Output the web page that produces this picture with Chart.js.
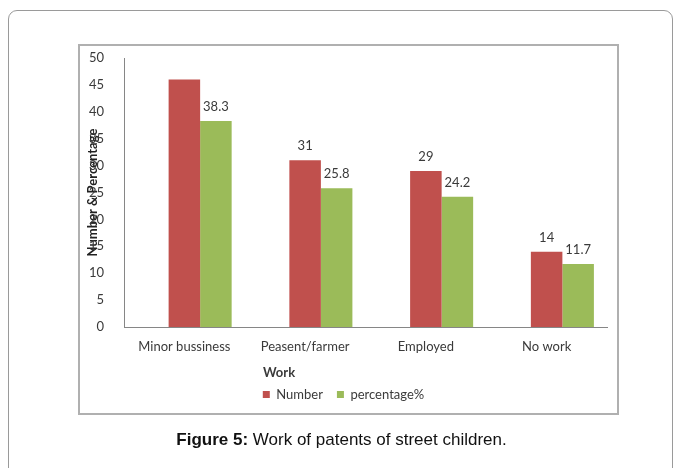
<!DOCTYPE html>
<html>
<head>
<meta charset="utf-8">
<script src="https://cdn.jsdelivr.net/npm/chart.js@4.4.0/dist/chart.umd.min.js"></script>
<style>
  html, body { margin: 0; padding: 0; background: #fff; }
  body { width: 683px; height: 468px; position: relative; overflow: hidden; }
  #outer { position: absolute; left: 8px; top: 10px; width: 663px; height: 480px; border: 1px solid #9a9a9a; border-radius: 9px; }
  #inner { position: absolute; left: 78px; top: 44px; width: 537px; height: 367px; border: 2px solid #b0b0b0; }
  #chartBox { position: absolute; left: 0; top: 0; width: 683px; height: 468px; }
  #caption { position: absolute; left: 0; top: 430px; width: 683px; text-align: center; font-family: "Liberation Sans", Arial, sans-serif; font-size: 17px; color: #111; }
</style>
</head>
<body>
<div id="outer"></div>
<div id="inner"></div>
<div id="chartBox"><canvas id="workChart" width="683" height="468"></canvas></div>
<div id="caption"><b>Figure 5:</b> Work of patents of street children.</div>
<script>
const categories = ['Minor bussiness', 'Peasent/farmer', 'Employed', 'No work'];
const numberValues = [46, 31, 29, 14];
const percentValues = [38.3, 25.8, 24.2, 11.7];
// the first "Number" bar has no value label in the original
const numberLabels = ['', '31', '29', '14'];
const percentLabels = ['38.3', '25.8', '24.2', '11.7'];
const yMin = 0, yMax = 50, yStep = 5;

const textColor = '#3a3a3a';
const fontFamily = 'Lato, "Open Sans", sans-serif';

// draws the value labels over the bars and the "Work" axis title
const barLabels = {
    id: 'barLabels',
    afterDatasetsDraw(chart) {
        const ctx = chart.ctx;
        ctx.save();
        ctx.fillStyle = textColor;
        ctx.textAlign = 'center';
        ctx.textBaseline = 'middle';
        ctx.font = '13px ' + fontFamily;
        chart.data.datasets.forEach((ds, i) => {
            if (!ds.valueText) return;
            chart.getDatasetMeta(i).data.forEach((bar, j) => {
                if (ds.valueText[j]) ctx.fillText(ds.valueText[j], bar.x, bar.y - 14);
            });
        });
        const area = chart.chartArea;
        ctx.font = 'bold 13px ' + fontFamily;
        ctx.fillText('Work', area.left + (area.right - area.left) * 0.321, area.bottom + 46);
        ctx.restore();
    }
};

const ctx = document.getElementById('workChart').getContext('2d');
const workChart = new Chart(ctx, {
    type: 'bar',
    data: {
        labels: categories,
        datasets: [
            {
                // empty slot, the original chart leaves a gap left of each pair
                label: '',
                data: categories.map(() => null),
                backgroundColor: 'rgba(0,0,0,0)'
            },
            {
                label: 'Number',
                data: numberValues,
                valueText: numberLabels,
                backgroundColor: '#C0504D'
            },
            {
                label: 'percentage%',
                data: percentValues,
                valueText: percentLabels,
                backgroundColor: '#9BBB59'
            }
        ]
    },
    options: {
        responsive: false,
        animation: false,
        devicePixelRatio: 1,
        layout: {
            padding: { left: 80, right: 76, top: 58, bottom: 57 }
        },
        datasets: {
            bar: {
                categoryPercentage: 0.783,
                barPercentage: 1
            }
        },
        plugins: {
            legend: {
                position: 'bottom',
                labels: {
                    filter: (item) => item.text !== '',
                    boxWidth: 7,
                    boxHeight: 7,
                    padding: 14,
                    color: textColor,
                    font: { family: fontFamily, size: 13 }
                }
            },
            tooltip: { enabled: false }
        },
        scales: {
            x: {
                grid: { display: false },
                border: { display: true, color: '#868686', width: 1 },
                ticks: {
                    color: textColor,
                    padding: 4,
                    font: { family: fontFamily, size: 13 }
                },
                afterFit: (scale) => { scale.height = 47; }
            },
            y: {
                min: yMin,
                max: yMax,
                grid: { display: false },
                border: { display: true, color: '#868686', width: 1 },
                ticks: {
                    stepSize: yStep,
                    color: textColor,
                    padding: 12,
                    font: { family: fontFamily, size: 13 }
                },
                title: {
                    display: true,
                    text: 'Number & Percentage',
                    color: '#222',
                    padding: { top: 5, bottom: 0 },
                    font: { family: fontFamily, size: 13, weight: 'bold' }
                },
                afterFit: (scale) => { scale.width = 44; }
            }
        }
    },
    plugins: [barLabels]
});
</script>
</body>
</html>
